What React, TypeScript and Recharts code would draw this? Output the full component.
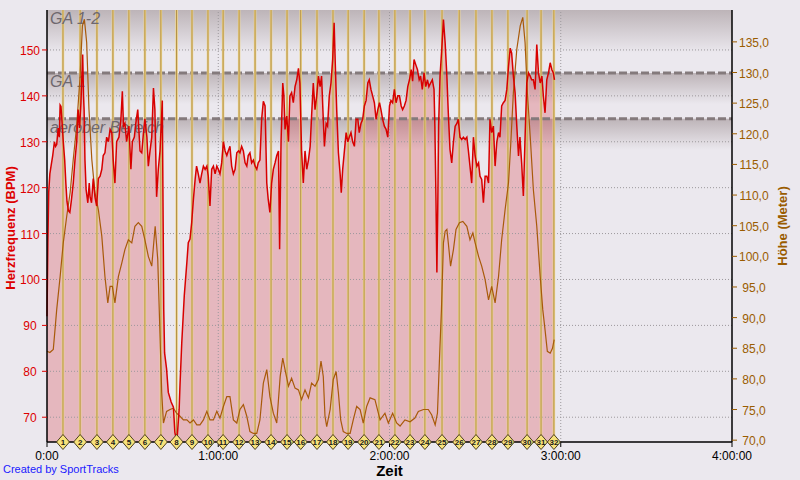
import React from 'react';
import { ComposedChart, Area, Line, Scatter, XAxis, YAxis, ReferenceArea, ReferenceLine, Label } from 'recharts';

// heart rate trace (minutes since start, bpm)
const hrMinutes = [
    0, 0.3, 0.6, 1.0, 1.5, 2.0, 2.6, 3.0, 3.4, 3.9, 4.3, 4.6, 4.9, 5.3, 5.7, 6.2, 6.6, 7.0, 7.5, 8.0,
    8.5, 9.2, 9.8, 10.4, 10.9, 11.4, 11.9, 12.2, 12.5, 12.8, 13.0, 13.3, 13.7, 14.3, 14.8, 15.1, 15.6, 16.2, 16.8, 17.4,
    18.0, 18.6, 19.2, 19.7, 20.3, 20.9, 21.5, 22.1, 22.7, 23.2, 23.8, 24.4, 25.2, 25.9, 26.4, 26.8, 27.3, 27.9, 28.7, 29.4,
    29.9, 30.6, 31.1, 31.8, 32.6, 33.2, 33.8, 34.3, 35.0, 35.5, 36.1, 36.7, 37.3, 37.8, 38.4, 39.0, 39.6, 40.4, 40.9, 41.2,
    41.9, 42.5, 43.5, 44.3, 44.8, 45.5, 46.3, 46.6, 47.2, 48.1, 49.0, 49.5, 50.1, 50.7, 51.3, 51.9, 52.4, 53.0, 53.6, 54.2,
    54.8, 55.4, 56.0, 56.5, 57.1, 57.7, 58.3, 58.9, 59.5, 60.0, 60.6, 61.2, 61.8, 62.4, 63.0, 63.5, 64.1, 64.7, 65.3, 65.9,
    66.5, 67.1, 67.6, 68.2, 68.8, 69.4, 70.0, 70.5, 71.1, 71.7, 72.3, 72.9, 73.5, 74.0, 74.6, 75.2, 75.8, 76.4, 77.0, 77.5,
    78.1, 78.7, 79.3, 79.9, 80.5, 81.1, 81.5, 82.0, 82.6, 83.0, 83.4, 84.0, 84.6, 85.1, 85.7, 86.3, 86.9, 87.5, 88.1, 88.6,
    89.2, 89.8, 90.4, 91.0, 91.6, 92.2, 92.7, 93.3, 93.9, 94.5, 95.1, 95.7, 96.2, 96.8, 97.2, 97.8, 98.3, 98.9, 99.5, 100.1,
    100.6, 101.0, 101.5, 102.1, 102.7, 103.1, 103.6, 104.2, 104.8, 105.4, 105.9, 106.5, 107.1, 107.7, 108.3, 108.9, 109.4, 110.0, 110.6, 111.2,
    111.8, 112.4, 112.9, 113.5, 114.1, 114.7, 115.3, 115.9, 116.5, 117.0, 117.6, 118.2, 118.8, 119.4, 120.0, 120.5, 121.1, 121.7, 122.3, 122.9,
    123.5, 124.1, 124.6, 125.2, 125.8, 126.4, 127.0, 127.6, 128.1, 128.6, 129.2, 129.8, 130.4, 130.9, 131.5, 132.1, 132.7, 133.3, 133.8, 134.4,
    135.0, 135.6, 135.9, 136.3, 136.6, 136.9, 137.2, 137.7, 138.3, 138.9, 139.5, 140.1, 140.6, 141.2, 141.8, 142.4, 143.0, 143.6, 144.1, 144.7,
    145.3, 145.9, 146.5, 147.1, 147.6, 148.2, 148.8, 149.4, 150.0, 150.6, 151.2, 151.7, 152.3, 152.9, 153.5, 154.1, 154.7, 155.2, 155.8, 156.4,
    157.0, 157.6, 158.2, 158.7, 159.3, 159.9, 160.5, 161.1, 161.7, 162.3, 162.8, 163.4, 164.0, 164.6, 165.2, 165.7, 166.3, 166.9, 167.5, 168.1,
    168.7, 169.3, 169.8, 170.4, 171.0, 171.6, 172.2, 172.8, 173.4, 173.9, 174.5, 175.1, 175.7, 176.3, 176.9, 177.4, 177.8,
];
const hrBpm = [
    92, 108, 119, 123, 125, 127, 130, 129, 129.4, 133, 131, 138, 137.7, 134, 130, 126, 121, 117, 115, 114.6,
    117, 121, 126, 130, 137, 133, 138.5, 144, 149, 140, 137, 126, 119.6, 116.7, 121, 118, 116.7, 122, 118, 116,
    122, 122.5, 124, 127, 127.6, 131, 130, 132.7, 132, 126, 121, 130, 131, 135, 141, 133.4, 134, 130, 133.4, 124,
    130, 131, 134, 137, 128, 127.6, 132, 135, 131, 124.7, 128, 131, 141.7, 137, 118, 124, 128, 139, 93.5, 84,
    80.5, 75.4, 73.3, 72.2, 66.7, 64.6, 71.7, 77, 86, 96.5, 103.7, 108, 108.8, 112.4, 117.5, 121.8, 124.7, 123, 121, 123,
    124.7, 124, 124.7, 122.5, 116, 124, 124.7, 123, 124.7, 124, 123, 125.4, 130, 128, 127, 128, 129, 124.7, 123, 124,
    127.6, 128, 127.6, 129, 128, 125.4, 124.7, 127, 127.6, 125.4, 126, 124.7, 124, 125.4, 126, 134.9, 138.8, 137.8, 121, 117.5,
    114.6, 121, 124, 125.4, 127, 128, 106.6, 130, 142.8, 140, 132.7, 135.6, 130, 140, 140.7, 138.5, 142, 143.5, 146, 142.8,
    128, 121, 128, 124, 126, 129, 135.6, 142.8, 137, 140, 144.3, 142, 144.3, 134.9, 129, 134, 133.4, 140, 142.8, 148,
    155.9, 147, 137, 127.6, 123, 118.9, 124, 128, 132, 130, 131, 132, 130, 129, 134.9, 134.9, 132, 134, 134.9, 137.8,
    139, 142.8, 143.5, 141.4, 140, 138.5, 134.9, 137, 138.5, 137, 134.9, 133.4, 132.7, 131, 137.8, 139, 138.5, 141.4, 138.5, 140,
    140, 137.8, 137, 137.8, 139, 142, 143.5, 145.7, 143.2, 147.9, 146.8, 145.7, 143.5, 144.3, 141.4, 145, 142, 143.5, 142, 142.8,
    143.5, 141.4, 133.4, 116.7, 101.5, 115.3, 133.4, 144.3, 150, 156.6, 151.5, 144.3, 136.3, 128.3, 125.4, 130, 133.4, 134, 134.9, 131,
    130.5, 131, 130.5, 131, 128.3, 124.7, 121, 131, 126.9, 124.7, 125.4, 122.5, 121.8, 116.7, 122.5, 122.5, 121, 134.9, 132, 133.4,
    124.7, 130, 132, 131, 137.8, 138.5, 139, 141.4, 146.4, 150.4, 149.3, 144.3, 140.7, 133.4, 126.9, 131, 125.4, 118.2, 131, 142.8,
    145, 144.3, 143.5, 143.5, 141.4, 151.2, 145, 142.8, 144.3, 140, 136.3, 143.5, 145, 147.2, 145.7, 145, 143.5,
];

// altitude trace (minutes, metres)
const elevMinutes = [
    0, 1.0, 2.2, 2.8, 3.4, 4.6, 5.7, 6.9, 8.1, 9.2, 10.4, 11.6, 12.4, 13.1, 13.9, 14.7, 15.7, 16.8, 18.0, 19.2,
    20.3, 21.3, 22.1, 22.9, 23.8, 25.0, 26.2, 27.3, 28.5, 29.7, 30.8, 32.0, 33.2, 34.3, 35.5, 36.7, 37.9, 38.8, 39.6, 40.2,
    40.8, 41.9, 43.1, 44.3, 45.4, 46.6, 47.8, 49.0, 50.1, 51.3, 52.5, 53.6, 54.8, 56.0, 57.1, 58.3, 59.5, 60.6, 61.8, 63.0,
    64.1, 65.3, 66.5, 67.6, 68.8, 70.0, 71.1, 72.3, 73.5, 74.6, 75.8, 77.0, 78.1, 79.3, 80.5, 81.7, 82.6, 83.4, 84.6, 85.7,
    86.9, 88.1, 89.2, 90.4, 91.6, 92.7, 93.9, 95.1, 96.0, 96.8, 97.4, 98.0, 99.2, 100.3, 101.3, 102.1, 102.9, 103.8, 105.0, 106.2,
    107.3, 108.5, 109.7, 110.8, 112.0, 113.2, 114.9, 116.7, 118.4, 119.6, 121.1, 122.5, 123.7, 125.4, 127.2, 128.9, 130.1, 131.9, 133.6, 134.8,
    136.0, 136.8, 137.5, 138.2, 138.9, 139.5, 140.1, 140.6, 141.4, 142.4, 143.3, 144.5, 145.7, 147.1, 148.2, 149.2, 150.0, 151.2, 152.3, 153.5,
    154.7, 155.8, 157.0, 158.2, 159.3, 160.5, 161.7, 162.5, 163.4, 164.6, 165.8, 166.7, 167.5, 168.3, 169.3, 170.4, 171.6, 172.8, 173.7, 174.5,
    175.3, 176.3, 177.1, 177.7,
];
const elevMeters = [
    84.5, 84.3, 84.8, 88, 91.3, 96.7, 102.2, 106.5, 110.4, 115.8, 121.3, 129.4, 137.6, 138.7, 134.9, 124, 115.8, 110.4, 107.6, 103.3,
    96.7, 92.4, 95.1, 95.1, 92.4, 96.7, 98.9, 101.1, 102.7, 102.2, 104.9, 105.5, 104.9, 102.7, 100, 98.4, 104.9, 99.5, 87, 77.7,
    72.8, 74.7, 75, 75.2, 74.4, 73.9, 73.3, 73.3, 72.8, 73.3, 72.5, 72.5, 73.3, 74.7, 73.3, 73.3, 74.7, 73.6, 75.5, 77.1,
    77.1, 73.3, 72.8, 75, 75.8, 73.9, 71.4, 71.1, 71.1, 73.3, 79.3, 81.5, 77.1, 74.4, 72.8, 80.4, 83.4, 81.5, 78.8, 80.1,
    78.5, 78.2, 76.6, 78.2, 76.9, 79.3, 78.8, 79.9, 82.9, 80.4, 73.9, 72.2, 75, 79.9, 81.2, 77.7, 73.3, 71.4, 71.1, 71.1,
    73.3, 75.5, 75, 72.8, 75.5, 76.9, 76.6, 73.3, 74.4, 72.8, 74.4, 72.8, 72.3, 73.3, 73, 73.6, 74.7, 75, 75, 74.1,
    72.5, 74.4, 83.1, 91.3, 102.2, 104.1, 104.4, 102.2, 98.4, 101.1, 104.4, 105.5, 105.7, 104.9, 102.7, 103.8, 102.2, 100, 98.4, 96.2,
    92.9, 95.1, 92.4, 96.7, 102.7, 107.6, 112, 118.5, 126.7, 133.8, 137.6, 139, 134.9, 126.7, 119.6, 110.9, 104.9, 96.7, 91.3, 88,
    84.5, 84.2, 85, 86.4,
];

// lap splits (minutes)
const lapMinutes = [
    5.6, 11.6, 17.5, 23.1, 28.7, 34.3, 39.9, 45.4, 50.8, 56.4, 61.7, 67.3, 72.9, 78.5, 84.1, 88.9,
    94.6, 100.2, 105.5, 111.1, 116.3, 121.9, 127.2, 132.4, 138.4, 144.4, 150.3, 155.9, 161.5, 168.2, 173.1, 177.6,
];

// training zones (bpm)
const zoneNames = ['GA 1-2', 'GA 1', 'aerober Bereich'];
const zoneLow = [145, 135, 125];
const zoneHigh = [158.7, 145, 135];
const zoneBorders = [145, 135];

const timeTicks = [0, 60, 120, 180, 240];
const hrTicks = [70, 80, 90, 100, 110, 120, 130, 140, 150];
const elevTicks = [70, 75, 80, 85, 90, 95, 100, 105, 110, 115, 120, 125, 130, 135];

const HR_DOMAIN = [64.6, 158.7];
const ELEV_DOMAIN = [69.7, 140.2];

const FONT = '"Liberation Sans", Arial, sans-serif';
const HR_COLOR = '#dd0000';
const ELEV_COLOR = '#9a5c00';
const GRID_COLOR = '#9c989c';

const hrData = hrMinutes.map((t, i) => ({ t, hr: hrBpm[i] }));
const elevData = elevMinutes.map((t, i) => ({ t, elev: elevMeters[i] }));
const lapData = lapMinutes.map((t, i) => ({ t, base: HR_DOMAIN[0], n: i + 1 }));

const formatTime = (v: number) => (v === 0 ? '0:00' : `${v / 60}:00:00`);

const TimeTick = (props: any) => {
    const { x, y, payload } = props;
    return (
        <text x={x} y={y + 11} textAnchor="middle" fontSize={12} fontFamily={FONT} fill="#000">
            {formatTime(payload.value)}
        </text>
    );
};

const HrTick = (props: any) => {
    const { x, y, payload } = props;
    return (
        <text x={x - 10} y={y + 5} textAnchor="middle" fontSize={12} fontFamily={FONT} fill={HR_COLOR}>
            {payload.value}
        </text>
    );
};

const ElevTick = (props: any) => {
    const { x, y, payload } = props;
    return (
        <text x={x + 15} y={y + 5} textAnchor="middle" fontSize={12} fontFamily={FONT} fill={ELEV_COLOR}>
            {payload.value.toFixed(1).replace('.', ',')}
        </text>
    );
};

const LapMarker = (props: any) => {
    const { cx, cy, payload } = props;
    if (cx == null || cy == null) return null;
    return (
        <g>
            <polygon
                points={`${cx},${cy - 7.5} ${cx + 6.5},${cy} ${cx},${cy + 7.5} ${cx - 6.5},${cy}`}
                fill="#f7e27a"
                stroke="#4d4020"
                strokeWidth={1}
            />
            <text x={cx} y={cy + 3} textAnchor="middle" fontSize={8} fontWeight="bold" fontFamily={FONT} fill="#1a1a1a">
                {payload.n}
            </text>
        </g>
    );
};

const zoneLabel = (text: string) => (props: any) => {
    const { viewBox } = props;
    if (!viewBox) return null;
    return (
        <text x={viewBox.x + 3} y={viewBox.y + 14} fontSize={16} fontStyle="italic" fontFamily={FONT} fill="#6e686e">
            {text}
        </text>
    );
};

const leftAxisLabel = (props: any) => {
    const { viewBox } = props;
    const cx = viewBox.x + 10;
    const cy = viewBox.y + viewBox.height / 2 + 2;
    return (
        <text x={cx} y={cy} transform={`rotate(-90 ${cx} ${cy})`} textAnchor="middle" dominantBaseline="central"
            fontSize={13} fontWeight="bold" fontFamily={FONT} fill={HR_COLOR}>
            Herzfrequenz (BPM)
        </text>
    );
};

const rightAxisLabel = (props: any) => {
    const { viewBox } = props;
    const cx = viewBox.x + 50;
    const cy = viewBox.y + viewBox.height / 2;
    return (
        <text x={cx} y={cy} transform={`rotate(-90 ${cx} ${cy})`} textAnchor="middle" dominantBaseline="central"
            fontSize={13} fontWeight="bold" fontFamily={FONT} fill={ELEV_COLOR}>
            Höhe (Meter)
        </text>
    );
};

export default function App() {
    return (
        <div style={{ position: 'absolute', left: 0, top: 0, width: 800, height: 480, background: '#ebe8ee', fontFamily: FONT }}>
            <ComposedChart width={800} height={480} margin={{ top: 10, right: 0, bottom: 0, left: 0 }}>
                <defs>
                    <linearGradient id="zoneGrad" x1="0" y1="0" x2="0" y2="1">
                        <stop offset="0" stopColor="#bdb4b8" />
                        <stop offset="0.68" stopColor="#ebe8ee" />
                        <stop offset="1" stopColor="#ebe8ee" />
                    </linearGradient>
                </defs>

                {zoneNames.map((name, i) => (
                    <ReferenceArea key={name} yAxisId="hr" y1={zoneLow[i]} y2={zoneHigh[i]} fill="url(#zoneGrad)" fillOpacity={1} stroke="none" />
                ))}

                {/* dotted grid, drawn as reference lines so it sits above the zone bands */}
                {hrTicks.map((v) => (
                    <ReferenceLine key={`gh-${v}`} yAxisId="hr" y={v} stroke={GRID_COLOR} strokeDasharray="1 2" />
                ))}
                {timeTicks.slice(1, 4).map((v) => (
                    <ReferenceLine key={`gv-${v}`} yAxisId="hr" x={v} stroke={GRID_COLOR} strokeDasharray="1 2" />
                ))}

                <XAxis type="number" dataKey="t" domain={[0, 240]} ticks={timeTicks} height={38}
                    axisLine={{ stroke: '#000', strokeWidth: 1.5 }} tickLine={{ stroke: '#000' }} tickSize={5} tick={<TimeTick />}>
                    <Label value="Zeit" position="insideBottom" offset={4} fontSize={15} fontWeight="bold" fontFamily={FONT} fill="#000" />
                </XAxis>
                <YAxis yAxisId="hr" orientation="left" width={47} domain={HR_DOMAIN} ticks={hrTicks}
                    axisLine={{ stroke: '#000', strokeWidth: 1.5 }} tickLine={{ stroke: HR_COLOR }} tickSize={5} tick={<HrTick />}>
                    <Label content={leftAxisLabel} />
                </YAxis>
                <YAxis yAxisId="elev" orientation="right" width={68} domain={ELEV_DOMAIN} ticks={elevTicks}
                    axisLine={{ stroke: '#000', strokeWidth: 1.5 }} tickLine={{ stroke: ELEV_COLOR }} tickSize={5} tick={<ElevTick />}>
                    <Label content={rightAxisLabel} />
                </YAxis>

                {zoneBorders.map((v) => (
                    <ReferenceLine key={`zb-${v}`} yAxisId="hr" y={v} stroke="#847a7c" strokeWidth={3} strokeDasharray="8 3" />
                ))}

                <Area data={hrData} dataKey="hr" yAxisId="hr" type="linear" stroke="none" fill="rgb(210,20,30)" fillOpacity={0.23}
                    isAnimationActive={false} />

                {lapMinutes.map((t) => (
                    <ReferenceLine key={`lh-${t}`} yAxisId="hr" x={t} stroke="#f0d88e" strokeWidth={2.5} />
                ))}
                {lapMinutes.map((t) => (
                    <ReferenceLine key={`ld-${t}`} yAxisId="hr" x={t} stroke="#b08c44" strokeWidth={1} />
                ))}

                {zoneNames.map((name, i) => (
                    <ReferenceLine key={`zl-${name}`} yAxisId="hr" y={zoneHigh[i]} stroke="none" label={{ content: zoneLabel(name) }} />
                ))}

                <Line data={elevData} dataKey="elev" yAxisId="elev" type="linear" stroke="#a85a0a" strokeWidth={1.2} dot={false}
                    isAnimationActive={false} />
                <Line data={hrData} dataKey="hr" yAxisId="hr" type="linear" stroke="#d80000" strokeWidth={1.5} dot={false}
                    isAnimationActive={false} />

                <Scatter data={lapData} dataKey="base" yAxisId="hr" shape={<LapMarker />} isAnimationActive={false} />
            </ComposedChart>
            <div style={{ position: 'absolute', left: 3, top: 463, fontSize: 11, color: '#1a1aff', fontFamily: FONT }}>
                Created by SportTracks
            </div>
        </div>
    );
}
